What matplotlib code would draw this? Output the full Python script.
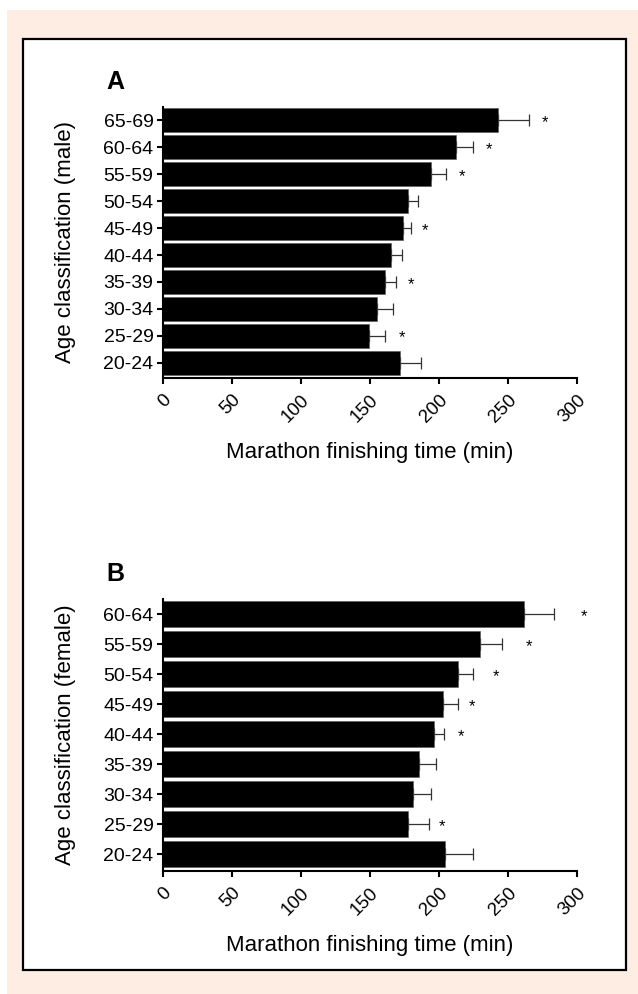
import matplotlib.pyplot as plt
from matplotlib.patches import Rectangle

plt.rcParams["font.family"] = ["Liberation Sans", "DejaVu Sans"]

# panel A - male
ages_a = ["20-24", "25-29", "30-34", "35-39", "40-44", "45-49", "50-54", "55-59", "60-64", "65-69"]
time_a = [172, 149.6, 155.6, 161, 165.6, 174, 177.4, 194.5, 212.5, 242.5]
err_a = [15, 11.7, 11.4, 8, 7.4, 6, 7.6, 10.5, 12.5, 22.9]
star_a = {"25-29": 173, "35-39": 180, "45-49": 190, "55-59": 216.6, "60-64": 236.5, "65-69": 277}

# panel B - female
ages_b = ["20-24", "25-29", "30-34", "35-39", "40-44", "45-49", "50-54", "55-59", "60-64"]
time_b = [204.2, 178, 181.2, 185.7, 196.3, 202.8, 213.6, 229.9, 261.7]
err_b = [20.4, 15, 13.3, 12.3, 7.7, 10.8, 11.4, 16.1, 21.8]
star_b = {"25-29": 202, "40-44": 215.7, "45-49": 224, "50-54": 241.6, "55-59": 265, "60-64": 305}

xticks = [0, 50, 100, 150, 200, 250, 300]

W, H = 638, 994


def fx(px):
    return px / W


def fy(py):
    return 1 - py / H


fig = plt.figure(figsize=(W / 100, H / 100), dpi=100)
fig.patch.set_facecolor("white")
# peach page + white framed box
fig.patches.append(Rectangle((fx(7), 0), 1 - fx(7), fy(10), transform=fig.transFigure,
                             facecolor="#FDEDE3", edgecolor="none", zorder=-3))
fig.patches.append(Rectangle((fx(22.7), fy(970)), fx(625.7) - fx(22.7), fy(39) - fy(970),
                             transform=fig.transFigure, facecolor="white",
                             edgecolor="black", linewidth=1.6, zorder=-2))


def panel(top, bottom, ages, times, errs, stars, bar_h, letter, ylabel):
    ax = fig.add_axes([fx(162.5), fy(bottom), fx(577) - fx(162.5), fy(top) - fy(bottom)])
    ax.set_zorder(1)
    ax.patch.set_alpha(0)
    y = list(range(len(ages)))
    ax.barh(y, times, height=bar_h, color="black", edgecolor="#555555", linewidth=0.4, zorder=2)
    ax.errorbar(times, y, xerr=[[0] * len(errs), errs], fmt="none", ecolor="#333333",
                elinewidth=0.9, capsize=4, capthick=0.9, zorder=1)
    for lab, xs in stars.items():
        ax.text(xs, ages.index(lab) - 0.08, "*", ha="center", va="center",
                fontsize=12, clip_on=False)
    ax.set_xlim(0, 300)
    ax.set_ylim(-0.56, len(ages) - 0.5)
    ax.set_xticks(xticks)
    ax.set_xticklabels([str(t) for t in xticks], rotation=45, ha="right",
                       rotation_mode="anchor", fontsize=13.5)
    ax.set_yticks(y)
    ax.set_yticklabels(ages, fontsize=14)
    for s in ["top", "right"]:
        ax.spines[s].set_visible(False)
    for s in ["left", "bottom"]:
        ax.spines[s].set_linewidth(1.5)
    ax.tick_params(axis="both", width=1.5, length=4.5, direction="out")
    ax.tick_params(axis="x", pad=5)
    ax.tick_params(axis="y", pad=2)
    fig.text(fx(369.7), fy(bottom + 75), "Marathon finishing time (min)",
             ha="center", va="center", fontsize=16)
    fig.text(fx(65), fy((top + bottom) / 2), ylabel, ha="center", va="center",
             rotation=90, fontsize=16)
    fig.text(fx(115), fy(top - 25), letter, ha="center", va="center",
             fontsize=18, fontweight="bold")
    return ax


panel(106.7, 378, ages_a, time_a, err_a, star_a, 0.9, "A", "Age classification (male)")
panel(599, 871, ages_b, time_b, err_b, star_b, 0.88, "B", "Age classification (female)")

fig.savefig("out.png", dpi=100)
